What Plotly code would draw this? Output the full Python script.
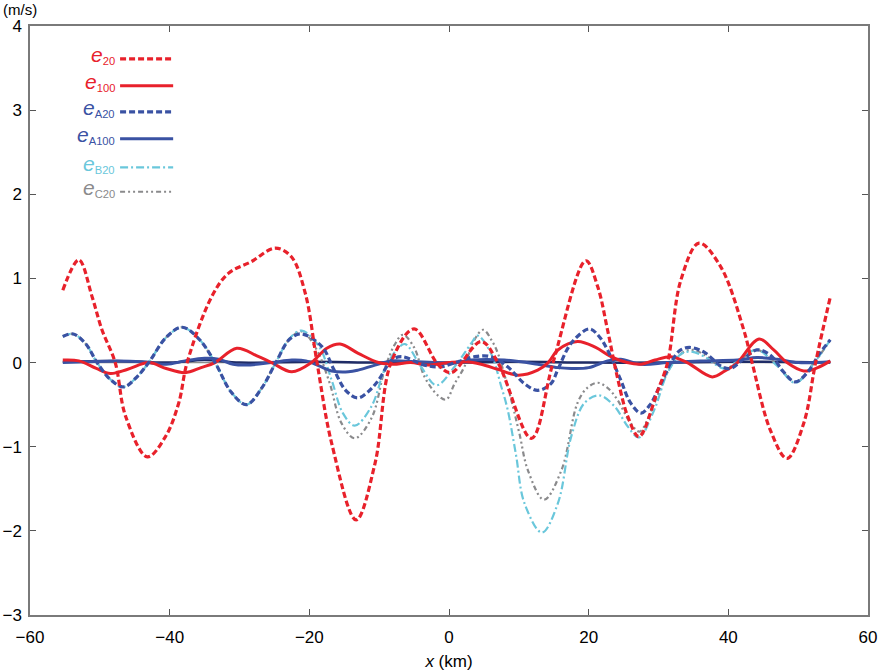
import plotly.graph_objects as go

# values (x in km, speed error in m/s)
e20_x = [-55.3, -53.0, -51.1, -49.7, -47.8, -46.3, -43.2, -40.6, -38.7, -37.5, -34.0, -31.6, -28.3, -24.9,
         -22.6, -20.6, -18.9, -16.8, -13.3, -10.6, -8.3, -5.0, -1.6, 0.3, 4.6, 7.0, 11.8, 14.9, 19.6, 21.3,
         22.7, 24.1, 25.6, 27.2, 29.9, 31.3, 33.2, 35.8, 38.9, 42.2, 43.4, 46.0, 48.4, 50.8, 52.5, 54.6]
e20_y = [0.86, 1.22, 0.78, 0.39, 0.0, -0.64, -1.12, -0.88, -0.48, 0.0, 0.78, 1.06, 1.2, 1.36,
         1.26, 0.83, 0.0, -0.96, -1.87, -1.2, 0.0, 0.4, -0.02, -0.12, 0.25, 0.0, -0.9, 0.0, 1.21, 0.9,
         0.39, -0.17, -0.64, -0.88, -0.33, 0.0, 0.98, 1.42, 1.14, 0.39, 0.0, -0.8, -1.14, -0.72, 0.0, 0.78]

e100_x = [-55.3, -53.0, -50.5, -48.5, -46.0, -43.0, -40.5, -37.8, -35.5, -33.5, -30.4, -27.5, -25.4, -22.5,
          -19.7, -17.5, -15.6, -13.0, -10.1, -8.0, -5.5, -3.0, 0.0, 2.5, 4.6, 7.0, 9.9, 12.7, 14.2, 15.6,
          18.4, 21.0, 23.2, 25.5, 27.5, 29.5, 31.8, 34.1, 37.7, 39.5, 41.3, 44.4, 46.5, 48.4, 50.8, 52.8, 54.6]
e100_y = [0.03, 0.02, -0.07, -0.13, -0.08, 0.0, -0.07, -0.12, -0.06, 0.0, 0.17, 0.08, 0.0, -0.11,
          0.0, 0.17, 0.22, 0.11, 0.0, -0.02, 0.0, -0.03, 0.0, 0.01, -0.02, -0.08, -0.15, -0.09, 0.0, 0.15,
          0.25, 0.18, 0.07, 0.0, -0.02, 0.03, 0.07, 0.0, -0.17, -0.1, 0.0, 0.28, 0.15, 0.0, -0.1, -0.06, 0.02]

# the three 20-km curves share the same shape west of -21 km
eA20_x = [-55.3, -53.8, -52.0, -50.4, -48.5, -46.6, -44.8, -43.0, -40.5, -38.2, -35.8, -33.5, -31.2, -29.0,
          -26.8, -24.8, -22.8, -21.1, -18.2, -16.5, -14.8, -13.1, -11.5, -10.1, -8.2, -6.8, -3.5, -1.2, 1.3,
          3.7, 6.0, 8.4, 10.8, 12.7, 14.6, 15.6, 17.5, 20.1, 21.5, 22.7, 24.6, 26.0, 27.5, 28.8, 29.9, 31.8,
          33.0, 34.4, 36.6, 38.9, 40.3, 42.0, 44.1, 46.0, 48.0, 49.6, 51.5, 53.0, 54.6]
eA20_y = [0.31, 0.34, 0.22, 0.0, -0.2, -0.29, -0.18, 0.0, 0.3, 0.42, 0.28, 0.0, -0.35, -0.5,
          -0.3, 0.0, 0.28, 0.34, 0.19, -0.08, -0.33, -0.42, -0.34, -0.21, 0.03, 0.07, -0.03, -0.05, 0.01,
          0.07, 0.07, -0.05, -0.25, -0.33, -0.25, -0.08, 0.23, 0.4, 0.31, 0.15, -0.21, -0.48, -0.6, -0.5, -0.33, 0.0,
          0.14, 0.18, 0.12, -0.04, -0.07, 0.03, 0.15, 0.09, -0.12, -0.23, -0.1, 0.1, 0.27]

eA100_x = [-55.3, -52.0, -47.5, -44.0, -40.5, -37.8, -35.0, -33.0, -30.9, -29.0, -25.4, -22.5, -20.5, -18.6,
           -16.8, -14.4, -13.0, -10.6, -8.2, -5.0, -2.0, 0.5, 3.2, 7.9, 12.7, 15.6, 17.5, 20.0, 22.7, 24.6,
           27.5, 31.3, 36.0, 41.3, 44.1, 47.0, 50.0, 54.6]
eA100_y = [0.0, 0.01, 0.02, 0.01, -0.02, 0.02, 0.05, 0.04, -0.02, -0.03, 0.0, 0.03, 0.02, -0.04,
           -0.1, -0.11, -0.09, -0.03, 0.02, 0.01, 0.0, -0.01, 0.03, 0.03, -0.02, -0.06, -0.07, -0.06, 0.02, 0.04,
           -0.02, 0.0, 0.02, 0.03, 0.06, 0.04, 0.0, 0.01]

eB20_x = [-55.3, -53.8, -52.0, -50.4, -48.5, -46.6, -44.8, -43.0, -40.5, -38.2, -35.8, -33.5, -31.2, -29.0,
          -26.8, -24.8, -22.8, -21.1, -18.6, -16.8, -15.2, -13.5, -11.1, -9.2, -7.5, -6.3, -4.0, -1.8, 0.8,
          3.2, 4.1, 6.0, 7.5, 8.4, 9.6, 10.8, 13.3, 15.6, 17.5, 19.4, 21.5, 23.7, 25.6, 27.2, 29.4, 31.3,
          33.2, 34.6, 36.6, 38.9, 39.8, 41.3, 44.1, 47.0, 49.6, 52.3, 54.6]
eB20_y = [0.31, 0.34, 0.22, 0.0, -0.2, -0.29, -0.18, 0.0, 0.3, 0.42, 0.28, 0.0, -0.35, -0.5,
          -0.3, 0.0, 0.29, 0.38, 0.19, -0.21, -0.6, -0.75, -0.52, -0.08, 0.15, 0.22, -0.05, -0.27, -0.05,
          0.23, 0.32, 0.11, -0.29, -0.56, -1.1, -1.67, -2.02, -1.67, -0.88, -0.48, -0.39, -0.52, -0.76, -0.89,
          -0.56, -0.12, 0.1, 0.13, 0.07, -0.06, -0.07, 0.02, 0.15, -0.04, -0.24, 0.0, 0.27]

eC20_x = [-55.3, -53.8, -52.0, -50.4, -48.5, -46.6, -44.8, -43.0, -40.5, -38.2, -35.8, -33.5, -31.2, -29.0,
          -26.8, -24.8, -22.8, -21.1, -19.0, -17.1, -15.4, -13.5, -11.1, -9.2, -7.8, -6.6, -5.0, -3.5, -1.6,
          -0.4, 0.8, 2.2, 3.5, 4.9, 6.2, 7.0, 8.9, 10.1, 11.3, 13.6, 16.1, 18.4, 19.8, 21.3, 22.7, 24.1,
          26.0, 27.3, 29.4, 31.8, 33.7, 35.0, 36.6, 38.9, 40.0, 41.5, 44.1, 47.0, 49.6, 52.3, 54.6]
eC20_y = [0.31, 0.34, 0.22, 0.0, -0.2, -0.29, -0.18, 0.0, 0.3, 0.42, 0.28, 0.0, -0.35, -0.5,
          -0.3, 0.0, 0.28, 0.37, 0.16, -0.24, -0.72, -0.9, -0.66, -0.08, 0.21, 0.33, 0.18, -0.17, -0.39,
          -0.44, -0.25, -0.05, 0.25, 0.39, 0.25, 0.11, -0.44, -0.85, -1.28, -1.63, -1.28, -0.48, -0.3, -0.24,
          -0.3, -0.44, -0.72, -0.82, -0.48, -0.04, 0.13, 0.15, 0.09, -0.05, -0.07, 0.02, 0.15, -0.03, -0.23,
          0.0, 0.27]

# unlabelled dark curve hugging zero
ez_x = [-55.3, -48.0, -40.0, -35.0, -30.0, -20.0, -10.0, 0.0, 10.0, 20.0, 30.0, 40.0, 54.6]
ez_y = [0.01, 0.02, 0.0, 0.03, 0.0, 0.01, 0.0, 0.0, 0.01, 0.0, 0.0, 0.01, 0.0]

zero_x = [-55.3, 54.6]
zero_y = [0, 0]

x_ticks = [-60, -40, -20, 0, 20, 40, 60]
y_ticks = [-3, -2, -1, 0, 1, 2, 3, 4]

RED = '#e8212b'
BLUE = '#3a52a3'
CYAN = '#6ac7db'
GRAY = '#8a8a8c'
NAVY = '#1f2c66'

# name, x, y, colour, dash, width
series = [
    ('e<sub>C20</sub>', eC20_x, eC20_y, GRAY, '5px,3px,2px,3px,2px,3px', 2.2),
    ('e<sub>B20</sub>', eB20_x, eB20_y, CYAN, '8px,3px,2px,3px', 2.2),
    ('e<sub>A100</sub>', eA100_x, eA100_y, BLUE, 'solid', 3),
    ('e<sub>100</sub>', e100_x, e100_y, RED, 'solid', 3),
    ('e<sub>A20</sub>', eA20_x, eA20_y, BLUE, '6px,3px', 3.2),
    ('e<sub>20</sub>', e20_x, e20_y, RED, '6px,3px', 3.2),
]
legend_order = ['e<sub>20</sub>', 'e<sub>100</sub>', 'e<sub>A20</sub>',
                'e<sub>A100</sub>', 'e<sub>B20</sub>', 'e<sub>C20</sub>']
legend_y = [3.61, 3.29, 2.98, 2.66, 2.32, 2.03]

FONT = 'Liberation Sans, Arial, sans-serif'

fig = go.Figure()
fig.add_trace(go.Scatter(x=zero_x, y=zero_y, mode='lines', line=dict(color='#8c8c8c', width=1.2),
                         hoverinfo='skip'))
fig.add_trace(go.Scatter(x=ez_x, y=ez_y, mode='lines', line=dict(color=NAVY, width=2.5, shape='spline')))
for name, xs, ys, col, dash, w in series:
    fig.add_trace(go.Scatter(x=xs, y=ys, mode='lines', name=name,
                             line=dict(color=col, width=w, dash=dash, shape='spline', smoothing=1.0)))

# hand-made legend: label on the left, line sample on the right
style = {s[0]: s for s in series}
for name, ly in zip(legend_order, legend_y):
    _, _, _, col, dash, w = style[name]
    fig.add_shape(type='line', x0=-47.1, x1=-39.5, y0=ly, y1=ly, xref='x', yref='y',
                  line=dict(color=col, width=w, dash=dash))
    label = name.replace('e<sub>', '<i><span style="font-size:21px">e</span></i><sub>')
    fig.add_annotation(x=-47.6, y=ly + 0.04, xref='x', yref='y', text=label, showarrow=False,
                       xanchor='right', yanchor='middle', font=dict(size=16, color=col))

fig.add_annotation(x=0, y=1.0, xref='paper', yref='paper', xshift=-29, yshift=6, text='(m/s)',
                   showarrow=False, xanchor='left', yanchor='bottom', font=dict(size=15, color='black'))

axis_common = dict(showline=True, linecolor='#7a7a7a', linewidth=1.5, mirror='ticks', ticks='inside',
                   ticklen=6, tickcolor='#555555', tickwidth=1, showgrid=False, zeroline=False,
                   automargin=False, tickfont=dict(size=17, color='black'))
fig.update_layout(
    width=879, height=671,
    margin=dict(l=30, r=11, t=26, b=56, autoexpand=False),
    paper_bgcolor='white', plot_bgcolor='white',
    showlegend=False,
    font=dict(family=FONT, color='black'),
    xaxis=dict(range=[-60, 60], tickvals=x_ticks, ticklabelstandoff=6,
               title=dict(text='<i>x</i> (km)', font=dict(size=17), standoff=14), **axis_common),
    yaxis=dict(range=[-3, 4], tickvals=y_ticks, ticklabelstandoff=3, **axis_common),
)

# drop the browser's default 8 px body margin so the figure fills the window exactly
fig.write_html('out.html', config={'displayModeBar': False},
               post_script="document.body.style.margin = '0';")
